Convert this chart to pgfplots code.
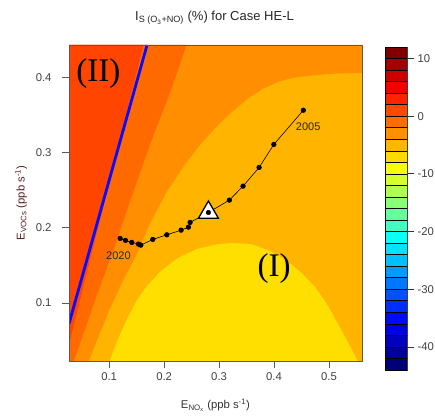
\documentclass[border=0pt]{standalone}
\usepackage{fontspec}
\setmainfont{Liberation Sans}
\newfontfamily\serifroman{Liberation Serif}
\usepackage{pgfplots}
\pgfplotsset{compat=1.18}
\definecolor{cA}{HTML}{FF4500}
\definecolor{cB}{HTML}{FF6A00}
\definecolor{cC}{HTML}{FF8F00}
\definecolor{cD}{HTML}{FFB400}
\definecolor{cE}{HTML}{FFDF00}
\definecolor{bl}{HTML}{0A0AFF}
\definecolor{ylab}{HTML}{5A1E1E}
\definecolor{cb1}{HTML}{7F0000}
\definecolor{cb2}{HTML}{A50000}
\definecolor{cb3}{HTML}{CC0000}
\definecolor{cb4}{HTML}{F50000}
\definecolor{cb5}{HTML}{FF2400}
\definecolor{cb6}{HTML}{FF4900}
\definecolor{cb7}{HTML}{FF6D00}
\definecolor{cb8}{HTML}{FF9100}
\definecolor{cb9}{HTML}{FFB600}
\definecolor{cb10}{HTML}{FFDA00}
\definecolor{cb11}{HTML}{F5FF0A}
\definecolor{cb12}{HTML}{D2FF2D}
\definecolor{cb13}{HTML}{ADFF52}
\definecolor{cb14}{HTML}{89FF76}
\definecolor{cb15}{HTML}{64FF9B}
\definecolor{cb16}{HTML}{40FFBF}
\definecolor{cb17}{HTML}{0AFFF5}
\definecolor{cb18}{HTML}{00E4FF}
\definecolor{cb19}{HTML}{00C0FF}
\definecolor{cb20}{HTML}{009BFF}
\definecolor{cb21}{HTML}{0077FF}
\definecolor{cb22}{HTML}{0052FF}
\definecolor{cb23}{HTML}{002EFF}
\definecolor{cb24}{HTML}{0009FF}
\definecolor{cb25}{HTML}{0000E4}
\definecolor{cb26}{HTML}{0000BF}
\definecolor{cb27}{HTML}{00009B}
\definecolor{cb28}{HTML}{000076}
\newcommand{\tfont}{\fontsize{11.3}{13}\selectfont}
\begin{document}
\begin{tikzpicture}
\begin{axis}[
  at={(69pt,56pt)}, anchor=south west, scale only axis,
  width=293pt, height=316pt,
  xmin=0.027, xmax=0.56, ymin=0.023, ymax=0.443,
  xtick={0.1,0.2,0.3,0.4,0.5}, ytick={0.1,0.2,0.3,0.4},
  tick align=outside, major tick length=7pt,
  xtick pos=bottom, ytick pos=left,
  axis line style={draw=black!65, line width=0.8pt},
  tick style={black!65, line width=0.8pt},
  ticklabel style={font=\tfont, text=black!75},
  yticklabel style={xshift=-7pt},
  xticklabel style={yshift=-1.5pt},
  /pgf/number format/assume math mode=true,
  /pgf/number format/fixed, /pgf/number format/precision=1,
  axis on top,
]
% background band (-6..-4)
\addplot[fill=cD, draw=none] coordinates {(0.027,0.023) (0.56,0.023) (0.56,0.443) (0.027,0.443)} -- cycle;
% band -4..-2
\addplot[fill=cC, draw=none] coordinates {(0.027,0.023) (0.063,0.023) (0.082,0.058) (0.1,0.09) (0.124,0.128) (0.149,0.163) (0.175,0.207) (0.204,0.247) (0.235,0.281) (0.265,0.310) (0.291,0.331) (0.32,0.352) (0.351,0.371) (0.38,0.385) (0.411,0.395) (0.44,0.400) (0.473,0.403) (0.51,0.405) (0.56,0.406) (0.56,0.443) (0.027,0.443)} -- cycle;
% band -2..0
\addplot[fill=cB, draw=none] coordinates {(0.027,0.023) (0.036,0.023) (0.075,0.105) (0.113,0.181) (0.145,0.25) (0.176,0.314) (0.21,0.378) (0.241,0.443) (0.027,0.443)} -- cycle;
% band 0..2 (II)
\addplot[fill=cA, draw=none] coordinates {(0.027,0.045) (0.1625,0.443) (0.027,0.443)} -- cycle;
% band -8..-6 (I)
\addplot[fill=cE, draw=none] coordinates {(0.101,0.023) (0.115,0.05) (0.132,0.078) (0.150,0.103) (0.170,0.124) (0.195,0.143) (0.225,0.160) (0.26,0.172) (0.295,0.178) (0.327,0.180) (0.36,0.178) (0.39,0.170) (0.42,0.158) (0.45,0.140) (0.475,0.121) (0.495,0.100) (0.512,0.078) (0.527,0.058) (0.540,0.040) (0.552,0.023)} -- cycle;
% blue line
\addplot[bl, line width=2.8pt] coordinates {(0.027,0.0725) (0.169,0.443)};
% trajectory 2005-2020
\addplot[black, line width=0.6pt, mark=*, mark size=2.3pt] coordinates {
(0.4533,0.3563) (0.3996,0.3108) (0.3728,0.2802) (0.3436,0.2554) (0.3187,0.2368)
(0.2806,0.2204) (0.2473,0.2072) (0.2442,0.2009) (0.2309,0.1969) (0.2049,0.1907)
(0.1794,0.1846) (0.1576,0.1770) (0.1533,0.1784) (0.1412,0.1806) (0.1297,0.1833) (0.1200,0.1859)};
\addplot[only marks, mark=triangle*, mark size=11.5pt, mark options={fill=white, draw=black, line width=1.3pt}] coordinates {(0.2806,0.2204)};
\addplot[only marks, black, mark=*, mark size=2.3pt] coordinates {(0.2806,0.2204)};
\node[font=\fontsize{11}{13}\selectfont, text=black!85] at (axis cs:0.462,0.334) {2005};
\node[font=\fontsize{11}{13}\selectfont, text=black!85] at (axis cs:0.117,0.163) {2020};
\node[font=\serifroman\fontsize{33}{36}\selectfont] at (axis cs:0.0805,0.405) {(II)};
\node[font=\serifroman\fontsize{33}{36}\selectfont] at (axis cs:0.40,0.1456) {(I)};
\end{axis}
% colour bar
\begin{axis}[
  at={(385pt,47pt)}, anchor=south west, scale only axis,
  width=22pt, height=323pt,
  xmin=0, xmax=1, ymin=-44, ymax=12,
  xtick=\empty, ytick={-40,-30,-20,-10,0,10},
  ytick pos=right, yticklabel pos=right,
  tick align=outside, major tick length=7pt,
  axis line style={draw=black!70, line width=0.8pt},
  tick style={black!80, line width=0.8pt},
  ticklabel style={font=\tfont, text=black!75},
  /pgf/number format/assume math mode=true,
]
\addplot[fill=cb1, draw=black, line width=0.6pt] coordinates {(0,10) (1,10) (1,12) (0,12)} -- cycle;
\addplot[fill=cb2, draw=black, line width=0.6pt] coordinates {(0,8) (1,8) (1,10) (0,10)} -- cycle;
\addplot[fill=cb3, draw=black, line width=0.6pt] coordinates {(0,6) (1,6) (1,8) (0,8)} -- cycle;
\addplot[fill=cb4, draw=black, line width=0.6pt] coordinates {(0,4) (1,4) (1,6) (0,6)} -- cycle;
\addplot[fill=cb5, draw=black, line width=0.6pt] coordinates {(0,2) (1,2) (1,4) (0,4)} -- cycle;
\addplot[fill=cb6, draw=black, line width=0.6pt] coordinates {(0,0) (1,0) (1,2) (0,2)} -- cycle;
\addplot[fill=cb7, draw=black, line width=0.6pt] coordinates {(0,-2) (1,-2) (1,0) (0,0)} -- cycle;
\addplot[fill=cb8, draw=black, line width=0.6pt] coordinates {(0,-4) (1,-4) (1,-2) (0,-2)} -- cycle;
\addplot[fill=cb9, draw=black, line width=0.6pt] coordinates {(0,-6) (1,-6) (1,-4) (0,-4)} -- cycle;
\addplot[fill=cb10, draw=black, line width=0.6pt] coordinates {(0,-8) (1,-8) (1,-6) (0,-6)} -- cycle;
\addplot[fill=cb11, draw=black, line width=0.6pt] coordinates {(0,-10) (1,-10) (1,-8) (0,-8)} -- cycle;
\addplot[fill=cb12, draw=black, line width=0.6pt] coordinates {(0,-12) (1,-12) (1,-10) (0,-10)} -- cycle;
\addplot[fill=cb13, draw=black, line width=0.6pt] coordinates {(0,-14) (1,-14) (1,-12) (0,-12)} -- cycle;
\addplot[fill=cb14, draw=black, line width=0.6pt] coordinates {(0,-16) (1,-16) (1,-14) (0,-14)} -- cycle;
\addplot[fill=cb15, draw=black, line width=0.6pt] coordinates {(0,-18) (1,-18) (1,-16) (0,-16)} -- cycle;
\addplot[fill=cb16, draw=black, line width=0.6pt] coordinates {(0,-20) (1,-20) (1,-18) (0,-18)} -- cycle;
\addplot[fill=cb17, draw=black, line width=0.6pt] coordinates {(0,-22) (1,-22) (1,-20) (0,-20)} -- cycle;
\addplot[fill=cb18, draw=black, line width=0.6pt] coordinates {(0,-24) (1,-24) (1,-22) (0,-22)} -- cycle;
\addplot[fill=cb19, draw=black, line width=0.6pt] coordinates {(0,-26) (1,-26) (1,-24) (0,-24)} -- cycle;
\addplot[fill=cb20, draw=black, line width=0.6pt] coordinates {(0,-28) (1,-28) (1,-26) (0,-26)} -- cycle;
\addplot[fill=cb21, draw=black, line width=0.6pt] coordinates {(0,-30) (1,-30) (1,-28) (0,-28)} -- cycle;
\addplot[fill=cb22, draw=black, line width=0.6pt] coordinates {(0,-32) (1,-32) (1,-30) (0,-30)} -- cycle;
\addplot[fill=cb23, draw=black, line width=0.6pt] coordinates {(0,-34) (1,-34) (1,-32) (0,-32)} -- cycle;
\addplot[fill=cb24, draw=black, line width=0.6pt] coordinates {(0,-36) (1,-36) (1,-34) (0,-34)} -- cycle;
\addplot[fill=cb25, draw=black, line width=0.6pt] coordinates {(0,-38) (1,-38) (1,-36) (0,-36)} -- cycle;
\addplot[fill=cb26, draw=black, line width=0.6pt] coordinates {(0,-40) (1,-40) (1,-38) (0,-38)} -- cycle;
\addplot[fill=cb27, draw=black, line width=0.6pt] coordinates {(0,-42) (1,-42) (1,-40) (0,-40)} -- cycle;
\addplot[fill=cb28, draw=black, line width=0.6pt] coordinates {(0,-44) (1,-44) (1,-42) (0,-42)} -- cycle;
\end{axis}
\node[font=\fontsize{13}{15}\selectfont, text=black!85] at (214.5pt,399pt) {I\textsubscript{S (O\textsubscript{3}+NO)} (\%) for Case HE-L};
\node[font=\tfont, text=black!80] at (215.5pt,12pt) {E\textsubscript{NO\textsubscript{x}} (ppb s\textsuperscript{-1})};
\node[font=\tfont, text=ylab, rotate=90] at (21pt,214pt) {E\textsubscript{VOCs} (ppb s\textsuperscript{-1})};
\pgfresetboundingbox
\useasboundingbox (0,0) rectangle (435pt,417pt);
\end{tikzpicture}
\end{document}
